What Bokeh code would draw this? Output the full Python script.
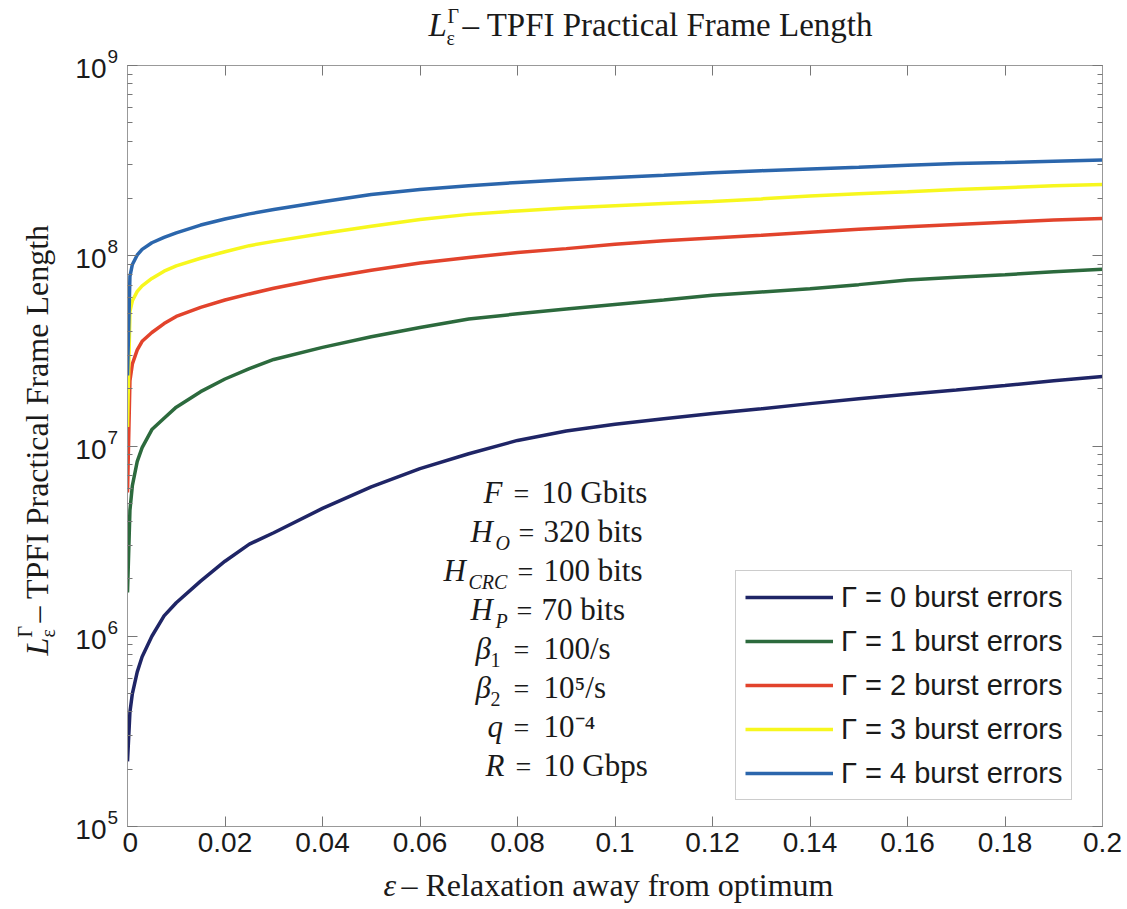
import math

from bokeh.embed import file_html
from bokeh.layouts import column, row
from bokeh.models import (CustomJSTickFormatter, FixedTicker, Label, Legend,
                          LegendItem, LinearAxis, LogAxis, Range1d)
from bokeh.plotting import figure
from bokeh.resources import INLINE

# ---------------------------------------------------------------- data
# relaxation away from the optimum frame length
eps = [0, 0.0005, 0.001, 0.002, 0.003, 0.005, 0.0075, 0.01, 0.015, 0.02,
       0.025, 0.03, 0.04, 0.05, 0.06, 0.07, 0.08, 0.09, 0.1, 0.11, 0.12,
       0.13, 0.14, 0.15, 0.16, 0.17, 0.18, 0.19, 0.2]

# practical frame length for Gamma = 0..4 burst errors
frame_len_g0 = [2.2e5, 4.0e5, 5.0e5, 6.5e5, 7.8e5, 1.0e6, 1.28e6, 1.5e6,
                1.95e6, 2.48e6, 3.05e6, 3.5e6, 4.7e6, 6.1e6, 7.6e6, 9.1e6,
                1.07e7, 1.2e7, 1.3e7, 1.39e7, 1.48e7, 1.57e7, 1.67e7,
                1.77e7, 1.87e7, 1.97e7, 2.08e7, 2.2e7, 2.32e7]
frame_len_g1 = [1.7e6, 4.6e6, 6.2e6, 8.3e6, 9.8e6, 1.22e7, 1.4e7, 1.6e7,
                1.93e7, 2.25e7, 2.55e7, 2.85e7, 3.3e7, 3.75e7, 4.2e7, 4.65e7,
                4.95e7, 5.25e7, 5.55e7, 5.85e7, 6.2e7, 6.45e7, 6.7e7, 7.05e7,
                7.45e7, 7.7e7, 7.95e7, 8.25e7, 8.5e7]
frame_len_g2 = [5.7e6, 2.2e7, 2.7e7, 3.2e7, 3.55e7, 3.95e7, 4.4e7, 4.8e7,
                5.35e7, 5.85e7, 6.3e7, 6.75e7, 7.6e7, 8.4e7, 9.15e7, 9.8e7,
                1.04e8, 1.09e8, 1.15e8, 1.2e8, 1.24e8, 1.28e8, 1.33e8,
                1.38e8, 1.42e8, 1.46e8, 1.5e8, 1.54e8, 1.57e8]
frame_len_g3 = [1.26e7, 5.1e7, 5.8e7, 6.5e7, 6.95e7, 7.6e7, 8.3e7, 8.85e7,
                9.7e7, 1.05e8, 1.13e8, 1.19e8, 1.31e8, 1.43e8, 1.55e8,
                1.65e8, 1.72e8, 1.78e8, 1.83e8, 1.88e8, 1.93e8, 1.99e8,
                2.06e8, 2.12e8, 2.17e8, 2.23e8, 2.28e8, 2.33e8, 2.37e8]
frame_len_g4 = [2.35e7, 7.8e7, 9.0e7, 1.01e8, 1.08e8, 1.17e8, 1.25e8,
                1.32e8, 1.45e8, 1.56e8, 1.66e8, 1.75e8, 1.92e8, 2.1e8,
                2.23e8, 2.33e8, 2.43e8, 2.51e8, 2.58e8, 2.65e8, 2.73e8,
                2.8e8, 2.86e8, 2.92e8, 2.99e8, 3.05e8, 3.09e8, 3.14e8,
                3.19e8]

series = [frame_len_g0, frame_len_g1, frame_len_g2, frame_len_g3, frame_len_g4]
series_labels = ["Γ = 0 burst errors", "Γ = 1 burst errors",
                 "Γ = 2 burst errors", "Γ = 3 burst errors",
                 "Γ = 4 burst errors"]

x_ticks = [0, 0.02, 0.04, 0.06, 0.08, 0.1, 0.12, 0.14, 0.16, 0.18, 0.2]
x_tick_labels = ["0", "0.02", "0.04", "0.06", "0.08", "0.1", "0.12", "0.14",
                 "0.16", "0.18", "0.2"]
y_ticks = [1e5, 1e6, 1e7, 1e8, 1e9]
y_tick_exponents = ["5", "6", "7", "8", "9"]

# system parameters listed inside the axes
param_symbols = ["F", "H", "H", "H", "β", "β", "q", "R"]
param_subscripts = ["", "O", "CRC", "P", "1", "2", "", ""]
param_values = ["10 Gbits", "320 bits", "100 bits", "70 bits", "100/s",
                "10⁵/s", "10⁻⁴", "10 Gbps"]

# ---------------------------------------------------------------- style
colors = ["#1f2566", "#2c6a3d", "#e2432c", "#f7f71e", "#2b66ac"]
SERIF = "Liberation Serif"
SANS = "Liberation Sans"
INK = "#1a1a1a"
FRAME = "#999999"

W, H = 1127, 909
SIDE_W, TOP_H, BOTTOM_H = 122, 50, 45
MAIN_W, MAIN_H = W - SIDE_W, H - TOP_H - BOTTOM_H
# frame edges in page pixels
LEFT, RIGHT, TOP, BOTTOM = 127, 1102, 65, 826
DECADE_PX = (BOTTOM - TOP) / 4.0
MID_RISE = 0.34  # centre of the text box above the baseline, in em


def text_strip(width, height, **kw):
    """A bare figure whose frame fills it, used to hold free-standing text."""
    f = figure(width=width, height=height, output_backend="svg",
               toolbar_location=None, min_border=0,
               x_axis_location=None, y_axis_location=None,
               x_range=Range1d(0, 1), **kw)
    f.title = None
    f.outline_line_color = None
    f.xgrid.visible = False
    f.ygrid.visible = False
    return f


p = figure(width=MAIN_W, height=MAIN_H, output_backend="svg",
           toolbar_location=None, y_axis_type="log",
           x_range=Range1d(0, 0.2), y_range=Range1d(1e5, 1e9),
           min_border_left=LEFT - SIDE_W, min_border_right=W - RIGHT,
           min_border_top=TOP - TOP_H,
           min_border_bottom=TOP_H + MAIN_H - BOTTOM)
p.title = None
p.xgrid.visible = False
p.ygrid.visible = False
p.outline_line_color = FRAME

blank = CustomJSTickFormatter(code="return ''")
minor_y = [m * 10 ** e for e in range(5, 9) for m in range(2, 10)]


def style_axis(ax, standoff=0):
    ax.axis_line_color = FRAME
    ax.major_tick_line_color = "#777777"
    ax.minor_tick_line_color = "#777777"
    ax.major_tick_in = 10
    ax.major_tick_out = 0
    ax.minor_tick_in = 5
    ax.minor_tick_out = 0
    ax.major_label_standoff = standoff
    ax.major_label_text_font = SANS
    ax.major_label_text_font_size = "28px"
    ax.major_label_text_color = INK


xa = p.xaxis[0]
xa.ticker = FixedTicker(ticks=x_ticks)
xa.major_label_overrides = dict(zip(x_ticks, x_tick_labels))
style_axis(xa, 6)

ya = p.yaxis[0]
ya.ticker = FixedTicker(ticks=y_ticks, minor_ticks=minor_y)
ya.formatter = blank
style_axis(ya)

top = LinearAxis(ticker=FixedTicker(ticks=x_ticks), formatter=blank)
style_axis(top)
p.add_layout(top, "above")
right = LogAxis(ticker=FixedTicker(ticks=y_ticks, minor_ticks=minor_y),
                formatter=blank)
style_axis(right)
p.add_layout(right, "right")

# curves
renderers = [p.line(eps, vals, line_width=3.5, line_color=c)
             for vals, c in zip(series, colors)]

legend = Legend(items=[LegendItem(label=l, renderers=[r])
                       for l, r in zip(series_labels, renderers)],
                location=(608, 26), orientation="vertical",
                label_text_font=SANS, label_text_font_size="29px",
                label_text_color=INK, glyph_width=88, glyph_height=34,
                label_height=34, label_standoff=8, spacing=10, padding=9,
                margin=0, border_line_color=FRAME, border_line_width=1,
                background_fill_color="white", background_fill_alpha=1)
p.add_layout(legend, "center")


# ---------------------------------------------------------------- texts
def put(fig, origin, text, px, py, size, font=SERIF, style="normal",
        align="left", rotated=False):
    """Place a text whose baseline passes through page pixel (px, py);
    origin is the page position of the figure frame's bottom-left corner.
    Rotated texts read bottom to top with the baseline on their right."""
    ox, oy = origin
    rise = MID_RISE * size
    if rotated:
        px, angle = px - rise, math.pi / 2
    else:
        py, angle = py - rise, 0.0
    fig.add_layout(Label(x=px - ox, y=oy - py, x_units="screen",
                         y_units="screen", text=text, text_font=font,
                         text_font_size=f"{size}px", text_font_style=style,
                         text_align=align, text_baseline="middle",
                         angle=angle, text_color=INK))


# left strip: full page height, log scale lined up with the main frame
side_lo = 10 ** (5 - (H - BOTTOM) / DECADE_PX)
side_hi = 10 ** (9 + TOP / DECADE_PX)
side_fig = text_strip(SIDE_W, H, y_axis_type="log",
                      y_range=Range1d(side_lo, side_hi))
S0 = (0, H)

# y tick labels: 10 with a raised exponent
for v, e in zip(y_ticks, y_tick_exponents):
    side_fig.add_layout(Label(x=106, y=v, x_units="screen", y_units="data",
                              text="10", text_font=SANS,
                              text_font_size="28px", text_align="right",
                              text_baseline="middle", y_offset=-3,
                              text_color=INK))
    side_fig.add_layout(Label(x=107, y=v, x_units="screen", y_units="data",
                              text=e, text_font=SANS, text_font_size="19px",
                              text_align="left", text_baseline="middle",
                              y_offset=9, text_color=INK))

# y axis title, reading bottom to top
put(side_fig, S0, "L", 47, 655, 32, style="italic", rotated=True)
put(side_fig, S0, "ε", 54, 637, 20, rotated=True)
put(side_fig, S0, "Γ", 31, 637, 20, rotated=True)
put(side_fig, S0, "– TPFI Practical Frame Length", 47, 622, 32,
    rotated=True)

# title
title_fig = text_strip(MAIN_W, TOP_H, y_range=Range1d(0, 1))
T0 = (SIDE_W, TOP_H)
put(title_fig, T0, "L", 423, 36, 33, style="italic")
put(title_fig, T0, "ε", 441, 44, 20)
put(title_fig, T0, "Γ", 442, 22, 20)
put(title_fig, T0, "– TPFI Practical Frame Length", 457, 36, 33)

# x axis title
bottom_fig = text_strip(MAIN_W, BOTTOM_H, y_range=Range1d(0, 1))
B0 = (SIDE_W, H)
put(bottom_fig, B0, "ε", 378, 895, 32, style="italic")
put(bottom_fig, B0, "– Relaxation away from optimum", 396, 895, 32)

# parameter block inside the axes
P0 = (LEFT, BOTTOM)
sym_left = [483, 470, 443, 470, 475, 475, 487, 485]
sub_left = [0, 495, 468, 495, 490, 490, 0, 0]
eq_mid = [521, 526, 525, 524, 521, 521, 521, 523]
val_left = [541, 543, 543, 541, 543, 543, 543, 543]
base_y = [503, 542, 581, 620, 659, 698, 737, 776]
for i, (s, sub, val) in enumerate(zip(param_symbols, param_subscripts,
                                      param_values)):
    put(p, P0, s, sym_left[i], base_y[i], 31, style="italic")
    if sub:
        put(p, P0, sub, sub_left[i], base_y[i] + 7, 20,
            style="normal" if sub.isdigit() else "italic")
    put(p, P0, "=", eq_mid[i], base_y[i], 28, align="center")
    put(p, P0, val, val_left[i], base_y[i], 31)

page = row(side_fig, column(title_fig, p, bottom_fig))
open("out.html", "w").write(file_html(page, INLINE))
